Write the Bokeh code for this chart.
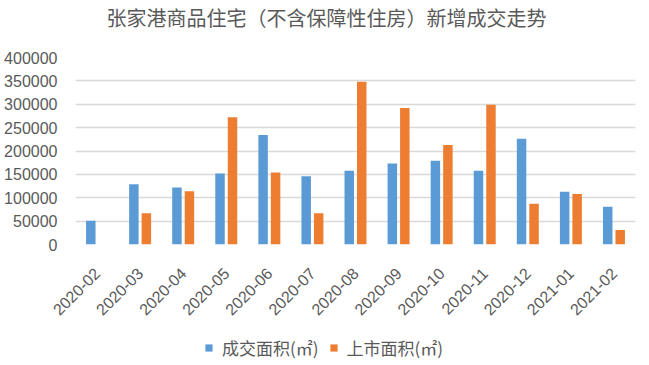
from bokeh.plotting import figure
from bokeh.layouts import column
from bokeh.models import (FactorRange, Range1d, FixedTicker, NumeralTickFormatter,
                          Legend, LegendItem, ColumnDataSource, Label)
from bokeh.transform import dodge
from bokeh.embed import file_html
from bokeh.resources import INLINE
import math

# ---- data ----
months = ["2020-02", "2020-03", "2020-04", "2020-05", "2020-06", "2020-07", "2020-08",
          "2020-09", "2020-10", "2020-11", "2020-12", "2021-01", "2021-02"]
deal_area = [51000, 129000, 122000, 152000, 234000, 146000, 158000,
             173000, 179000, 158000, 226000, 113000, 81000]
listed_area = [0, 67000, 114000, 272000, 154000, 67000, 348000,
               292000, 213000, 299000, 87000, 108000, 31000]
y_ticks = [0, 50000, 100000, 150000, 200000, 250000, 300000, 350000, 400000]
title_text = "张家港商品住宅（不含保障性住房）新增成交走势"
series_names = ["成交面积(㎡)", "上市面积(㎡)"]

BLUE = "#5B9BD5"
ORANGE = "#ED7D31"
GREY_TXT = "#595959"

src = ColumnDataSource(dict(m=months, deal=deal_area, listed=listed_area))

# ---- title strip ----
ts = figure(width=645, height=34, output_backend="svg", toolbar_location=None,
            x_range=Range1d(0, 1), y_range=Range1d(0, 1), min_border=0)
ts.axis.visible = False
ts.grid.visible = False
ts.outline_line_color = None
ts.background_fill_color = "white"
ts.border_fill_color = "white"
ts.add_layout(Label(x=0.448, y=0.5, text=title_text, text_align="center",
                    text_baseline="middle", text_font="Noto Sans CJK SC",
                    text_font_size="20px", text_color=GREY_TXT))

# ---- main chart ----
p = figure(frame_width=560, frame_height=187, output_backend="svg", toolbar_location=None,
           x_range=FactorRange(*months), y_range=Range1d(0, 400000),
           min_border_left=75, min_border_right=10, min_border_top=23,
           min_border_bottom=88)
p.x_range.range_padding = 0

r1 = p.vbar(x=dodge("m", -0.145, range=p.x_range), top="deal", width=0.22,
            source=src, fill_color=BLUE, line_color=None)
r2 = p.vbar(x=dodge("m", 0.145, range=p.x_range), top="listed", width=0.22,
            source=src, fill_color=ORANGE, line_color=None)

p.outline_line_color = None
p.background_fill_color = "white"
p.border_fill_color = "white"

p.xgrid.grid_line_color = None
p.ygrid.grid_line_color = "#D9D9D9"
p.ygrid.grid_line_width = 1.3
p.ygrid.ticker = FixedTicker(ticks=y_ticks)

p.yaxis.ticker = FixedTicker(ticks=y_ticks)
p.yaxis.formatter = NumeralTickFormatter(format="0")
p.yaxis.axis_line_color = None
p.yaxis.major_tick_line_color = None
p.yaxis.minor_tick_line_color = None
p.yaxis.major_label_standoff = 12
p.yaxis.major_label_text_font = "Liberation Sans"
p.yaxis.major_label_text_font_size = "16px"
p.yaxis.major_label_text_color = GREY_TXT

p.xaxis.axis_line_color = None
p.xaxis.major_tick_line_color = None
p.xaxis.minor_tick_line_color = None
p.xaxis.major_label_orientation = math.pi / 4
p.xaxis.major_label_standoff = 20
p.xaxis.major_label_text_font = "Liberation Sans"
p.xaxis.major_label_text_font_size = "16px"
p.xaxis.major_label_text_color = GREY_TXT

# ---- legend strip (hidden copies of the series supply the legend swatches) ----
lg = figure(width=645, height=30, output_backend="svg", toolbar_location=None,
            x_range=FactorRange(*months), y_range=Range1d(0, 400000),
            min_border=0)
lg.axis.visible = False
lg.grid.visible = False
lg.outline_line_color = None
lg.background_fill_color = "white"
lg.border_fill_color = "white"
e1 = lg.vbar(x="m", top="deal", width=0.2, source=src, fill_color=BLUE,
             line_color=None, visible=False)
e2 = lg.vbar(x="m", top="listed", width=0.2, source=src, fill_color=ORANGE,
             line_color=None, visible=False)
legend = Legend(items=[LegendItem(label=series_names[0], renderers=[e1]),
                       LegendItem(label=series_names[1], renderers=[e2])],
                orientation="horizontal", location=(129, 2),
                label_text_font="Noto Sans CJK SC", label_text_font_size="17px",
                label_text_color=GREY_TXT, glyph_width=9, glyph_height=9,
                spacing=10, label_standoff=9, padding=0, margin=0,
                border_line_color=None, background_fill_alpha=0,
                inactive_fill_alpha=0)
lg.add_layout(legend, "center")

layout = column(ts, p, lg, spacing=0)
open("out.html", "w").write(file_html(layout, INLINE))
